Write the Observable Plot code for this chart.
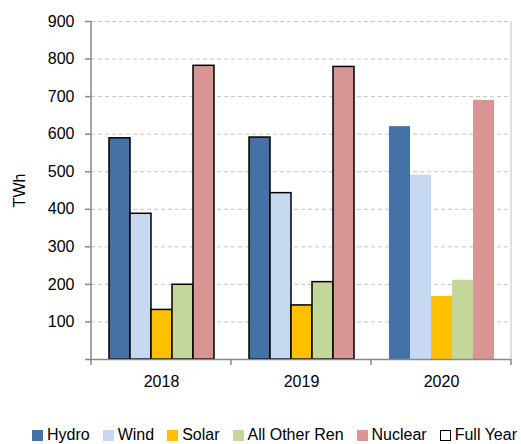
<!DOCTYPE html>
<html>
<head>
<meta charset="utf-8">
<script src="https://cdn.jsdelivr.net/npm/d3@7"></script>
<script src="https://cdn.jsdelivr.net/npm/@observablehq/plot@0.6"></script>
<style>
  html, body { margin: 0; padding: 0; background: #fff; }
  body { width: 521px; height: 444px; overflow: hidden; font-family: "Liberation Sans", Arial, sans-serif; }
  #legend { display: flex; white-space: nowrap; padding-left: 32px; padding-top: 26px; font-size: 16px; line-height: 18px; color: #000; }
  .item { display: flex; align-items: center; margin-right: 13px; }
  .sw { width: 11px; height: 11px; margin-right: 4px; box-sizing: border-box; flex: none; }
</style>
</head>
<body>
<div id="chart"></div>
<div id="legend"></div>
<script>
const years = ["2018", "2019", "2020"];
const sources = ["Hydro", "Wind", "Solar", "All Other Ren", "Nuclear"];
const hydro = [589, 591, 620];
const wind = [388, 443, 491];
const solar = [132, 144, 168];
const otherRen = [199, 206, 211];
const nuclear = [782, 779, 690];
const fullYear = [true, true, false];
const yTicks = [0, 100, 200, 300, 400, 500, 600, 700, 800, 900];
const colors = ["#4472a6", "#c6d9f0", "#ffc000", "#c4d79b", "#d99594"];

const series = [hydro, wind, solar, otherRen, nuclear];
const rows = [];
years.forEach((yr, i) => {
  sources.forEach((s, j) => {
    rows.push({year: yr, source: s, value: series[j][i], full: fullYear[i]});
  });
});

const chart = Plot.plot({
  width: 521,
  height: 400,
  marginLeft: 91,
  marginRight: 10,
  marginTop: 21,
  marginBottom: 41,
  style: {fontFamily: "'Liberation Sans', Arial, sans-serif", fontSize: "16px", color: "#000", background: "#fff"},
  fx: {domain: years, padding: 0, label: null},
  x: {domain: sources, paddingInner: 0, paddingOuter: 0.75, axis: null},
  y: {domain: [0, 900], axis: null},
  color: {domain: sources, range: colors},
  marks: [
    Plot.gridY(yTicks.filter(d => d > 0), {stroke: "#c4c4c4", strokeOpacity: 1, strokeDasharray: "4,3"}),
    Plot.barY(rows.filter(d => d.full), {fx: "year", x: "source", y: "value", fill: "source", stroke: "#000", strokeWidth: 1.5}),
    Plot.barY(rows.filter(d => !d.full), {fx: "year", x: "source", y: "value", fill: "source"}),
    Plot.ruleY([0], {stroke: "#888", strokeWidth: 1.5}),
    Plot.axisY(yTicks, {
      tickSize: 6, tickPadding: 11, stroke: "#888", strokeWidth: 1.5, fontSize: 16,
      tickFormat: d => d === 0 ? "" : d,
      label: "TWh", labelAnchor: "center", labelArrow: "none", labelOffset: 78
    }),
    Plot.axisFx({anchor: "bottom", tickSize: 0, tickPadding: 16, fontSize: 16, label: null})
  ]
});
document.getElementById("chart").appendChild(chart);

// axis lines and category boundary ticks through the plot's own scales
const fx = chart.scale("fx");
const y = chart.scale("y");
const svg = d3.select(chart);
const x0 = fx.apply(years[0]);
const xEnd = fx.apply(years[years.length - 1]) + fx.bandwidth;
const bounds = years.map(v => fx.apply(v)).concat([xEnd]);
const g = svg.append("g");
g.append("line").attr("x1", xEnd).attr("x2", xEnd).attr("y1", y.apply(900)).attr("y2", y.apply(0))
  .attr("stroke", "#d4d4d4").attr("stroke-width", 1.5);
g.append("line").attr("x1", x0).attr("x2", x0).attr("y1", y.apply(900)).attr("y2", y.apply(0))
  .attr("stroke", "#888").attr("stroke-width", 1.5);
g.selectAll("line.tk").data(bounds).join("line").attr("class", "tk")
  .attr("x1", d => d).attr("x2", d => d).attr("y1", y.apply(0)).attr("y2", y.apply(0) + 6)
  .attr("stroke", "#888").attr("stroke-width", 1.5);

// legend
const legend = d3.select("#legend");
sources.forEach((s, j) => {
  const it = legend.append("div").attr("class", "item");
  it.append("div").attr("class", "sw").style("background", colors[j]);
  it.append("span").text(s);
});
const fy = legend.append("div").attr("class", "item").style("margin-right", "0");
fy.append("div").attr("class", "sw").style("border", "1.5px solid #000").style("background", "#fff");
fy.append("span").text("Full Year");
</script>
</body>
</html>
